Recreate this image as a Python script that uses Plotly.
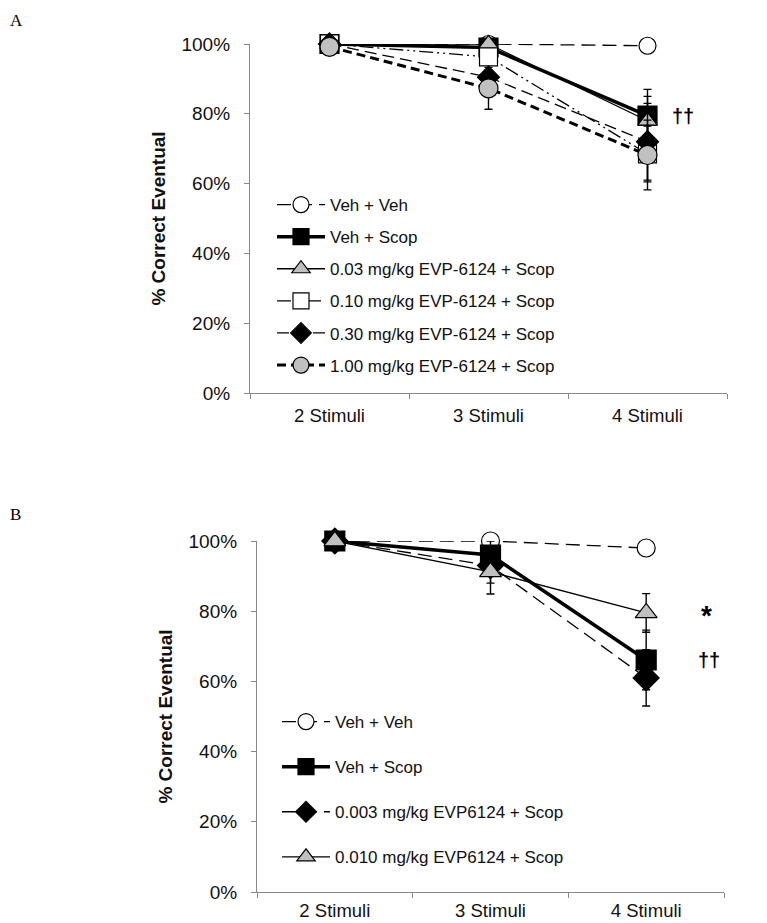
import plotly.graph_objects as go

W, H = 767, 923
OX, OY = 8, 8  # page body offset of the figure

categories = ["2 Stimuli", "3 Stimuli", "4 Stimuli"]

# Panel A (values as fraction of correct)
a_names = ["Veh + Veh", "Veh + Scop", "0.03 mg/kg EVP-6124 + Scop",
           "0.10 mg/kg EVP-6124 + Scop", "0.30 mg/kg EVP-6124 + Scop",
           "1.00 mg/kg EVP-6124 + Scop"]
a_veh_veh = [1.00, 1.00, 0.995]
a_veh_scop = [1.00, 0.99, 0.795]
a_003 = [1.00, 1.00, 0.78]
a_010 = [1.00, 0.963, 0.685]
a_030 = [1.00, 0.905, 0.72]
a_100 = [0.992, 0.873, 0.682]
a_err_veh_veh = [0.0, 0.0, 0.0]
a_err_veh_scop = [0.0, 0.01, 0.075]
a_err_003 = [0.0, 0.005, 0.07]
a_err_010 = [0.0, 0.01, 0.08]
a_err_030 = [0.0, 0.02, 0.11]
a_err_100 = [0.0, 0.06, 0.10]

# Panel B
b_names = ["Veh + Veh", "Veh + Scop", "0.003 mg/kg EVP6124 + Scop",
           "0.010 mg/kg EVP6124 + Scop"]
b_veh_veh = [1.00, 1.00, 0.98]
b_veh_scop = [1.00, 0.96, 0.661]
b_0003 = [1.00, 0.93, 0.61]
b_0010 = [1.00, 0.912, 0.795]
b_err_veh_veh = [0.0, 0.0, 0.0]
b_err_veh_scop = [0.0, 0.04, 0.085]
b_err_0003 = [0.0, 0.05, 0.08]
b_err_0010 = [0.0, 0.063, 0.055]

y_ticks = [0, 0.2, 0.4, 0.6, 0.8, 1.0]

FONT = "Liberation Sans, Arial, sans-serif"
GRAY = "#c0c0c0"


def PX(px):
    return (px - OX) / W


def PY(py):
    return 1 - (py - OY) / H


fig = go.Figure()


def add(x_ax, y_ax, legend, name, y, err, symbol, fill, size, lw, dash, group):
    fig.add_trace(go.Scatter(
        x=categories, y=y, name=name, xaxis=x_ax, yaxis=y_ax,
        legend=legend, legendgroup=group,
        mode="lines+markers", cliponaxis=False,
        line=dict(color="black", width=lw, dash=dash),
        marker=dict(symbol=symbol, size=size, color=fill,
                    line=dict(color="black", width=1.2)),
        error_y=dict(type="data", array=err, visible=True,
                     color="black", thickness=1.4, width=4),
    ))


LONG = "14px,7px"
# Panel A traces
add("x", "y", "legend", a_names[0], a_veh_veh, a_err_veh_veh, "circle", "white", 17, 1.3, LONG, "a0")
add("x", "y", "legend", a_names[1], a_veh_scop, a_err_veh_scop, "square", "black", 19, 3.5, "solid", "a1")
add("x", "y", "legend", a_names[2], a_003, a_err_003, "triangle-up", GRAY, 17, 1.3, "solid", "a2")
add("x", "y", "legend", a_names[3], a_010, a_err_010, "square", "white", 18, 1.3, "14px,4px,2px,4px,2px,4px", "a3")
add("x", "y", "legend", a_names[4], a_030, a_err_030, "diamond", "black", 17, 1.3, "12px,6px", "a4")
add("x", "y", "legend", a_names[5], a_100, a_err_100, "circle", GRAY, 19, 3.0, "9px,5px", "a5")

# Panel B traces
add("x2", "y2", "legend2", b_names[0], b_veh_veh, b_err_veh_veh, "circle", "white", 18, 1.3, LONG, "b0")
add("x2", "y2", "legend2", b_names[1], b_veh_scop, b_err_veh_scop, "square", "black", 20, 3.5, "solid", "b1")
add("x2", "y2", "legend2", b_names[2], b_0003, b_err_0003, "diamond", "black", 20, 1.3, LONG, "b2")
add("x2", "y2", "legend2", b_names[3], b_0010, b_err_0010, "triangle-up", GRAY, 19, 1.3, "solid", "b3")

xaxis_common = dict(
    type="category", range=[-0.5, 2.5], tickson="boundaries",
    showline=True, linecolor="#888888", linewidth=1.2,
    ticks="outside", ticklen=5, tickcolor="#888888",
    tickfont=dict(family=FONT, size=18.5, color="#111111"),
    showgrid=False, zeroline=False, automargin=False,
)
yaxis_common = dict(
    range=[0, 1], tickvals=y_ticks, tickformat=".0%",
    showline=True, linecolor="#888888", linewidth=1.2,
    ticks="outside", ticklen=5, tickcolor="#888888", ticklabelstandoff=10,
    tickfont=dict(family=FONT, size=19, color="#111111"),
    showgrid=False, zeroline=False, automargin=False,
    title=dict(text="<b>% Correct Eventual</b>",
               font=dict(family=FONT, size=19, color="#111111"), standoff=10),
)

legend_common = dict(xanchor="left", yanchor="top", bgcolor="rgba(0,0,0,0)",
                     traceorder="grouped", itemwidth=48,
                     font=dict(family=FONT, size=17, color="#111111"))

fig.update_layout(
    width=W, height=H,
    margin=dict(l=0, r=0, t=0, b=0, autoexpand=False),
    paper_bgcolor="white", plot_bgcolor="white",
    xaxis=dict(domain=[PX(250), PX(727)], anchor="y", ticklabelstandoff=6, **xaxis_common),
    yaxis=dict(domain=[PY(393), PY(44)], anchor="x", **yaxis_common),
    xaxis2=dict(domain=[PX(257), PX(724)], anchor="y2", ticklabelstandoff=2, **xaxis_common),
    yaxis2=dict(domain=[PY(892), PY(541)], anchor="x2", **yaxis_common),
    legend=dict(x=PX(272), y=PY(187), tracegroupgap=7, **legend_common),
    legend2=dict(x=PX(277), y=PY(704), tracegroupgap=20, **legend_common),
    showlegend=True,
)

# Significance markers
fig.add_annotation(x=categories[2], y=a_veh_scop[2], xref="x", yref="y",
                   text="<b>††</b>", showarrow=False, xanchor="left", xshift=22,
                   font=dict(family=FONT, size=20, color="black"))
fig.add_annotation(x=categories[2], y=b_0010[2], xref="x2", yref="y2",
                   text="<b>*</b>", showarrow=False, xanchor="left", xshift=53, yshift=-3,
                   font=dict(family=FONT, size=28, color="black"))
fig.add_annotation(x=categories[2], y=b_veh_scop[2], xref="x2", yref="y2",
                   text="<b>††</b>", showarrow=False, xanchor="left", xshift=50,
                   font=dict(family=FONT, size=20, color="black"))

# Panel letters
for letter, ypix in [("A", 9), ("B", 503)]:
    fig.add_annotation(x=PX(8), y=PY(ypix), xref="paper", yref="paper",
                       text=letter, showarrow=False, xanchor="left", yanchor="top",
                       font=dict(family="Liberation Serif, Times New Roman, serif",
                                 size=17, color="black"))

fig.write_html("out.html")
